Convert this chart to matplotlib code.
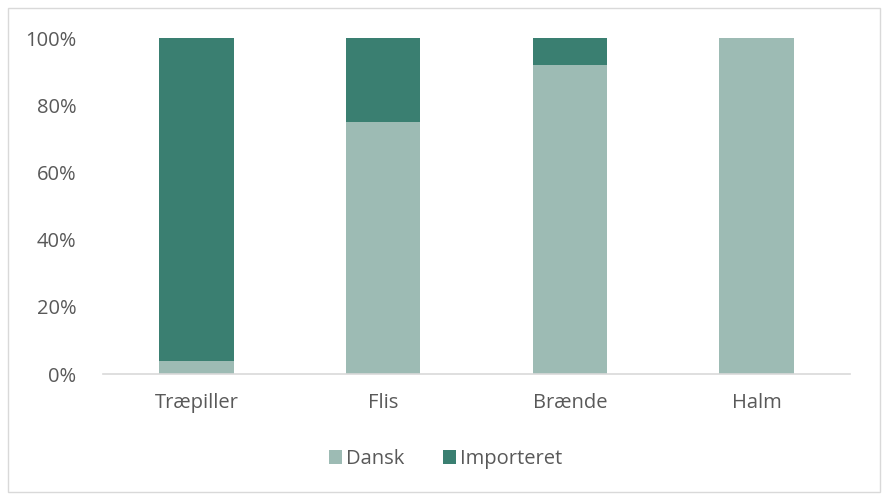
import matplotlib
matplotlib.use("Agg")
import matplotlib.pyplot as plt
from matplotlib.patches import Rectangle
from matplotlib.ticker import PercentFormatter

categories = ["Træpiller", "Flis", "Brænde", "Halm"]
dansk = [4, 75, 92, 100]
importeret = [96, 25, 8, 0]
yticks = [0, 20, 40, 60, 80, 100]

c_dansk = "#9DBBB4"
c_imp = "#3A7F71"
txt = "#595959"

plt.rcParams['font.family'] = ['Open Sans', 'DejaVu Sans']
fs = 14.5

fig = plt.figure(figsize=(8.82, 4.94), dpi=100)
ax = fig.add_axes([103/882, 1-374/494, (850-103)/882, (374-38)/494])

x = range(len(categories))
ax.bar(x, dansk, width=0.4, color=c_dansk, label="Dansk", zorder=2)
ax.bar(x, importeret, width=0.4, bottom=dansk, color=c_imp, label="Importeret", zorder=2)

ax.set_xlim(-0.5, len(categories)-0.5)
ax.set_ylim(0, 100)
ax.set_yticks(yticks)
ax.yaxis.set_major_formatter(PercentFormatter(decimals=0))
ax.set_xticks(list(x))
ax.set_xticklabels(categories)
ax.tick_params(axis='both', length=0, labelsize=fs, colors=txt)
ax.tick_params(axis='y', pad=19)
ax.tick_params(axis='x', pad=14)
for s in ["top", "right", "left"]:
    ax.spines[s].set_visible(False)
ax.spines["bottom"].set_color("#D9D9D9")
ax.spines["bottom"].set_linewidth(1.2)

leg = fig.legend(loc="center", bbox_to_anchor=(0.505, 1-459/494), ncol=2, frameon=False,
                 fontsize=fs, handlelength=0.65, handleheight=0.65, handletextpad=0.2,
                 columnspacing=1.9, labelcolor=txt)

fig.patches.append(Rectangle((8/882, 2/494), 872/882, 484/494, transform=fig.transFigure,
                             fill=False, edgecolor="#D9D9D9", linewidth=1))

fig.savefig("out.png", dpi=100)
